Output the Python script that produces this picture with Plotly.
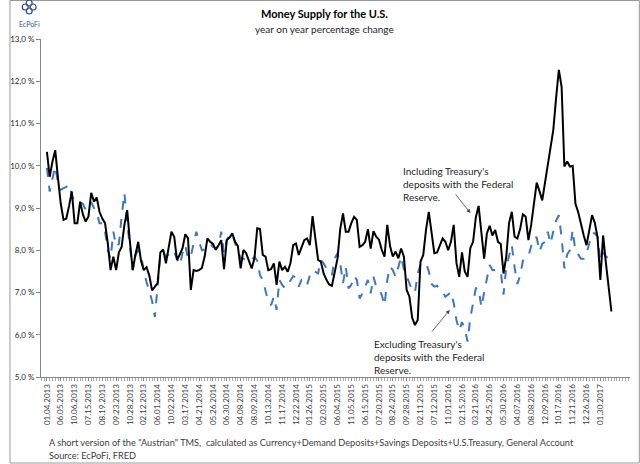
import pandas as pd
import plotly.graph_objects as go

# weekly y/y growth, in percent (first week: 2013-04-01)
tms_incl_treasury = [
    10.33, 9.74, 10.10, 10.37, 9.70, 9.10, 8.72, 8.75, 9.05, 9.39,
    8.64, 8.64, 9.15, 8.85, 8.68, 8.80, 9.36, 9.15, 9.25, 8.91,
    8.75, 8.64, 8.16, 7.53, 7.85, 7.53, 7.95, 8.08, 8.60, 8.95,
    8.20, 7.53, 7.90, 8.20, 7.75, 7.53, 7.60, 7.40, 7.05, 7.15,
    7.22, 7.95, 8.02, 7.69, 8.05, 8.44, 8.32, 7.77, 7.90, 8.05,
    8.38, 8.28, 7.06, 7.53, 7.51, 7.53, 7.58, 7.85, 8.28, 8.20,
    8.15, 8.01, 8.12, 8.24, 7.55, 8.24, 8.30, 8.40, 8.20, 8.10,
    7.57, 8.01, 7.93, 7.75, 7.57, 7.81, 8.52, 8.50, 7.89, 7.85,
    7.53, 7.55, 7.69, 7.18, 7.73, 7.53, 7.61, 7.49, 7.69, 8.12,
    8.16, 7.89, 8.05, 8.24, 8.28, 8.12, 8.81, 8.32, 7.77, 7.73,
    7.45, 7.30, 7.19, 7.16, 7.50, 7.80, 8.50, 8.87, 8.44, 8.44,
    8.64, 8.79, 8.72, 8.08, 8.12, 8.20, 8.50, 8.04, 8.45, 8.32,
    8.25, 8.01, 7.85, 8.60, 8.10, 7.85, 7.97, 7.81, 8.04, 7.85,
    7.06, 6.90, 6.40, 6.23, 6.35, 7.73, 7.89, 8.48, 8.91, 8.36,
    7.93, 7.95, 8.10, 8.28, 8.20, 8.00, 8.20, 8.60, 7.70, 7.37,
    7.95, 7.50, 7.37, 8.05, 8.20, 8.78, 9.05, 8.40, 7.80, 8.40,
    8.58, 8.35, 8.48, 8.20, 8.15, 7.45, 7.85, 8.64, 8.91, 8.32,
    8.28, 8.50, 8.85, 8.80, 8.24, 8.60, 9.10, 9.60, 9.40, 9.18,
    9.60, 10.00, 10.40, 10.85, 11.60, 12.27, 11.87, 9.98, 10.10, 9.98,
    10.00, 9.10, 8.90, 8.60, 8.35, 8.12, 8.50, 8.83, 8.65, 8.30,
    7.30, 8.35, 7.70, 7.14, 6.55,
]
tms_excl_treasury = [
    9.95, 9.39, 9.70, 9.98, 9.60, 9.43, 9.47, 9.50, 9.56, 9.30,
    9.15, 9.17, 9.13, 9.10, 8.95, 9.05, 9.14, 9.00, 8.91, 8.64,
    8.64, 8.45, 8.00, 7.80, 8.44, 8.09, 8.15, 8.80, 9.35, 8.64,
    8.10, 7.53, 7.89, 8.00, 7.90, 7.50, 7.25, 7.00, 6.80, 6.42,
    7.14, 7.89, 7.98, 7.85, 7.90, 8.00, 7.95, 7.80, 7.65, 7.93,
    8.12, 7.80, 7.85, 8.16, 8.44, 8.20, 8.00, 8.02, 8.10, 8.15,
    8.08, 8.05, 8.10, 8.44, 7.93, 8.25, 8.35, 8.40, 8.16, 8.00,
    7.81, 7.80, 7.77, 7.73, 7.77, 7.85, 7.75, 7.41, 7.30, 7.06,
    6.78, 6.70, 6.90, 6.59, 7.30, 7.18, 7.10, 7.18, 7.30, 7.39,
    7.35, 7.14, 7.30, 7.31, 7.18, 7.40, 7.53, 7.49, 7.45, 7.77,
    7.69, 7.57, 7.49, 7.41, 7.81, 7.93, 7.69, 7.22, 7.61, 7.10,
    7.18, 7.39, 7.30, 6.86, 6.98, 7.14, 7.30, 6.98, 7.37, 7.14,
    7.10, 6.94, 6.70, 7.30, 7.61, 7.53, 7.37, 7.60, 7.85, 7.55,
    7.37, 7.18, 7.05, 7.00, 7.45, 7.65, 7.65, 7.70, 7.50, 7.20,
    7.14, 7.16, 7.06, 7.02, 6.90, 6.95, 7.02, 6.75, 6.35, 6.10,
    6.30, 6.15, 5.84, 6.40, 6.75, 7.10, 7.10, 6.65, 7.00, 7.35,
    7.65, 7.53, 7.53, 7.53, 7.50, 6.95, 7.60, 7.90, 8.12, 7.60,
    7.20, 7.40, 7.75, 7.81, 7.85, 8.10, 8.30, 8.30, 7.97, 8.15,
    8.20, 8.44, 8.16, 8.45, 8.70, 8.83, 8.30, 7.57, 7.90, 8.00,
    8.48, 7.97, 7.90, 7.80, 7.80, 7.93, 8.16, 8.40, 8.40, 8.32,
    7.77, 7.95, 7.85, 7.80, 7.77,
]

# x labels exactly as printed on the original (every 5th week)
x_tick_labels = [
    "01.04.2013", "06.05.2013", "10.06.2013", "07.15.2013", "08.19.2013",
    "09.23.2013", "10.28.2013", "02.12.2013", "06.01.2014", "10.02.2014",
    "03.17.2014", "04.21.2014", "05.26.2014", "06.30.2014", "04.08.2014",
    "08.09.2014", "10.13.2014", "11.17.2014", "12.22.2014", "01.26.2015",
    "02.03.2015", "06.04.2015", "11.05.2015", "06.15.2015", "07.20.2015",
    "08.24.2015", "09.28.2015", "02.11.2015", "07.12.2015", "11.01.2016",
    "02.15.2016", "03.21.2016", "04.25.2016", "05.30.2016", "04.07.2016",
    "08.08.2016", "12.09.2016", "10.17.2016", "11.21.2016", "12.26.2016",
    "01.30.2017",
]
y_tick_vals = [5, 6, 7, 8, 9, 10, 11, 12, 13]
y_tick_labels = ["5,0 %", "6,0 %", "7,0 %", "8,0 %", "9,0 %",
                 "10,0 %", "11,0 %", "12,0 %", "13,0 %"]

weeks = pd.date_range("2013-04-01", periods=len(tms_incl_treasury), freq="7D")

FONT = "Lato"
L, R, T, B = 32, 10, 39, 87
W, H = 640, 464
pw, ph = W - L - R, H - T - B


def px(x):
    return (x - L) / pw


def py(y):
    return (H - B - y) / ph


fig = go.Figure()
fig.add_trace(go.Scatter(x=weeks, y=tms_excl_treasury, mode="lines",
                         line=dict(color="#3b78c4", width=2, dash="dash"),
                         name="Excluding Treasury"))
fig.add_trace(go.Scatter(x=weeks, y=tms_incl_treasury, mode="lines",
                         line=dict(color="#000000", width=2),
                         name="Including Treasury"))

fig.update_xaxes(range=["2013-03-17", "2017-04-15"],
                 tickvals=weeks[::5], ticktext=x_tick_labels, tickangle=-90,
                 tickfont=dict(family=FONT, size=8, color="#404040"),
                 showgrid=False, zeroline=False,
                 showline=True, linecolor="#888888", linewidth=1,
                 ticks="outside", ticklen=3, tickcolor="#888888",
                 minor=dict(ticks="outside", ticklen=3, tickcolor="#aaaaaa",
                            dtick=7 * 24 * 3600 * 1000, tick0="2013-04-01"))
fig.update_yaxes(range=[5, 13], tickvals=y_tick_vals, ticktext=y_tick_labels,
                 tickfont=dict(family=FONT, size=8, color="#262626"),
                 showgrid=False, zeroline=False,
                 showline=True, linecolor="#888888", linewidth=1,
                 ticks="outside", ticklen=4, tickcolor="#888888")

txt = dict(family=FONT, size=10, color="#262626")
ann = [
    dict(x=px(320), y=py(13), text="<b>Money Supply for the U.S.</b>",
         font=dict(family=FONT, size=11, color="#000000")),
    dict(x=px(320), y=py(29), text="year on year percentage change",
         font=dict(family=FONT, size=10, color="#262626")),
    dict(x=px(20), y=py(24), text="EcPoFi",
         font=dict(family=FONT, size=7, color="#3355a0")),
    dict(x=px(397), y=py(163), text="Including Treasury's<br>deposits with the Federal<br>Reserve.",
         xanchor="left", yanchor="top", align="left", font=txt),
    dict(x=px(368), y=py(336), text="Excluding Treasury's<br>deposits with the Federal<br>Reserve.",
         xanchor="left", yanchor="top", align="left", font=txt),
    dict(x=px(38), y=py(442),
         text='A short version of the "Austrian" TMS,  calculated as Currency+Demand Deposits+Savings Deposits+U.S.Treasury, General Account',
         xanchor="left", font=dict(family=FONT, size=9.2, color="#404040")),
    dict(x=px(38), y=py(455), text="Source: EcPoFi, FRED",
         xanchor="left", font=dict(family=FONT, size=9.2, color="#404040")),
]
for a in ann:
    a.setdefault("xanchor", "center")
    a.setdefault("yanchor", "middle")
    a.update(xref="paper", yref="paper", showarrow=False)

arrows = [
    dict(x=px(468), y=py(213), ax=-16, ay=-20),
    dict(x=px(447), y=py(310), ax=-19, ay=23),
]
for a in arrows:
    a.update(xref="paper", yref="paper", text="", showarrow=True,
             arrowhead=2, arrowsize=1, arrowwidth=0.8, arrowcolor="#404040")

shapes = [
    dict(type="rect", xref="paper", yref="paper",
         x0=px(0.5), x1=px(W - 0.5), y0=py(H - 1), y1=py(0.5),
         line=dict(color="#999999", width=1)),
]
# small blue emblem for the logo
for dx, dy in [(0, -5), (-4, -1), (4, -1), (0, 3)]:
    shapes.append(dict(type="circle", xref="paper", yref="paper",
                       x0=px(17 + dx), x1=px(23 + dx),
                       y0=py(11 + dy), y1=py(5 + dy),
                       line=dict(color="#2a4d9c", width=1.2)))

fig.update_layout(width=W, height=H, margin=dict(l=L, r=R, t=T, b=B),
                  paper_bgcolor="white", plot_bgcolor="white",
                  showlegend=False, annotations=ann + arrows, shapes=shapes)

# page body has an 8px default margin; drop it so the figure sits at 0,0
fig.write_html("out.html", config={"displayModeBar": False},
               post_script="document.body.style.margin='0';")
